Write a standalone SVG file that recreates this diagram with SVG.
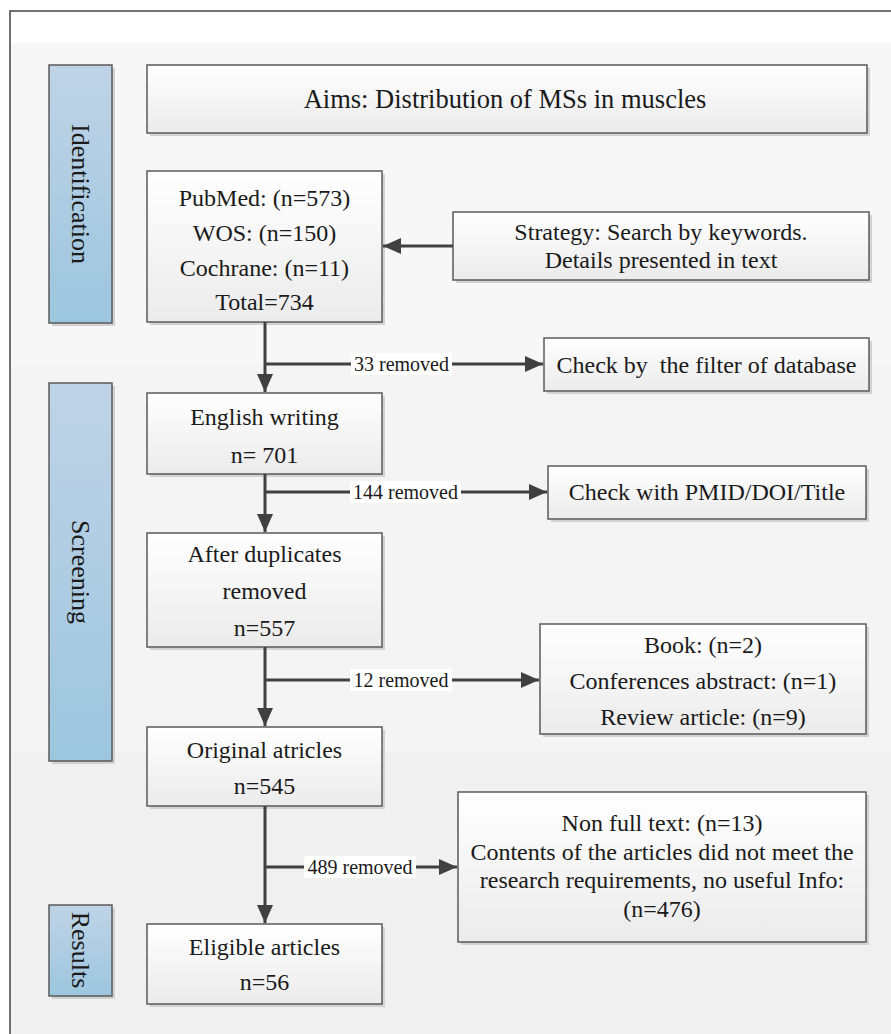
<svg xmlns="http://www.w3.org/2000/svg" width="891" height="1034" viewBox="0 0 891 1034">
<style>
.box{fill:url(#boxg);stroke:#5a5a5a;stroke-width:1.5}
.side{fill:url(#sideg);stroke:#5a5a5a;stroke-width:1.5}
.sh{fill:#d2d2d2}
.t{font-family:"Liberation Serif","Times New Roman",serif;font-size:24px;fill:#1a1a1a;text-anchor:middle}
.st{font-family:"Liberation Serif","Times New Roman",serif;font-size:26px;fill:#1a1a1a;text-anchor:middle}
.lbl{font-family:"Liberation Serif","Times New Roman",serif;font-size:20px;fill:#1a1a1a;text-anchor:middle}
.lb{fill:#ffffff}
.c{stroke:#404040;stroke-width:3;fill:none}
</style>
<defs>
<linearGradient id="boxg" x1="0" y1="0" x2="0" y2="1">
<stop offset="0" stop-color="#ffffff"/>
<stop offset="1" stop-color="#ebebeb"/>
</linearGradient>
<linearGradient id="sideg" x1="0" y1="0" x2="0" y2="1">
<stop offset="0" stop-color="#c0d3e6"/>
<stop offset="1" stop-color="#9cc6df"/>
</linearGradient>
<marker id="ah" markerUnits="userSpaceOnUse" markerWidth="20" markerHeight="20" viewBox="0 0 20 20" refX="18" refY="10" orient="auto">
<path d="M0,2 L18,10 L0,18 Z" fill="#404040"/>
</marker>
</defs>
<rect x="0" y="0" width="891" height="1034" fill="#ffffff"/>
<rect x="10" y="43" width="881" height="321" fill="#f7f7f7"/>
<rect x="10" y="364" width="881" height="388" fill="#f4f4f4"/>
<rect x="10" y="752" width="881" height="282" fill="#f0f0f0"/>
<path d="M10,1034 V11 H891" stroke="#444" stroke-width="1.5" fill="none"/>

<g id="side-identification">
<rect class="sh" x="52" y="68" width="63" height="258"/>
<rect class="side" x="49" y="65" width="63" height="258"/>
<text class="st" transform="translate(80.5,194) rotate(90)" dy="9">Identification</text>
</g>
<g id="side-screening">
<rect class="sh" x="52" y="386" width="63" height="378"/>
<rect class="side" x="49" y="383" width="63" height="378"/>
<text class="st" transform="translate(80.5,572) rotate(90)" dy="9">Screening</text>
</g>
<g id="side-results">
<rect class="sh" x="52" y="908" width="63" height="91"/>
<rect class="side" x="49" y="905" width="63" height="91"/>
<text class="st" transform="translate(80.5,950) rotate(90)" dy="9">Results</text>
</g>

<g id="aims">
<rect class="sh" x="150" y="68" width="720" height="68"/>
<rect class="box" x="147" y="65" width="720" height="68"/>
<text class="t" x="505" y="108" style="font-size:26.5px">Aims: Distribution of MSs in muscles</text>
</g>
<g id="sources">
<rect class="sh" x="150" y="174" width="235" height="151"/>
<rect class="box" x="147" y="171" width="235" height="151"/>
<text class="t" x="264.5" y="206">PubMed: (n=573)</text>
<text class="t" x="264.5" y="241">WOS: (n=150)</text>
<text class="t" x="264.5" y="276">Cochrane: (n=11)</text>
<text class="t" x="264.5" y="310">Total=734</text>
</g>
<g id="strategy">
<rect class="sh" x="456" y="215" width="416" height="68"/>
<rect class="box" x="453" y="212" width="416" height="68"/>
<text class="t" x="661" y="240">Strategy: Search by keywords.</text>
<text class="t" x="661" y="268">Details presented in text</text>
</g>
<g id="english">
<rect class="sh" x="150" y="396" width="235" height="81"/>
<rect class="box" x="147" y="393" width="235" height="81"/>
<text class="t" x="264.5" y="425">English writing</text>
<text class="t" x="264.5" y="463">n= 701</text>
</g>
<g id="filter">
<rect class="sh" x="547" y="341" width="325" height="53"/>
<rect class="box" x="544" y="338" width="325" height="53"/>
<text class="t" x="706.5" y="373" xml:space="preserve">Check by  the filter of database</text>
</g>
<g id="duplicates">
<rect class="sh" x="150" y="536" width="235" height="114"/>
<rect class="box" x="147" y="533" width="235" height="114"/>
<text class="t" x="264.5" y="562">After duplicates</text>
<text class="t" x="264.5" y="599">removed</text>
<text class="t" x="264.5" y="636">n=557</text>
</g>
<g id="pmid">
<rect class="sh" x="551" y="469" width="318" height="53"/>
<rect class="box" x="548" y="466" width="318" height="53"/>
<text class="t" x="707" y="500">Check with PMID/DOI/Title</text>
</g>
<g id="excluded1">
<rect class="sh" x="543" y="627" width="326" height="110"/>
<rect class="box" x="540" y="624" width="326" height="110"/>
<text class="t" x="703" y="653">Book: (n=2)</text>
<text class="t" x="703" y="689">Conferences abstract: (n=1)</text>
<text class="t" x="703" y="725">Review article: (n=9)</text>
</g>
<g id="original">
<rect class="sh" x="150" y="730" width="235" height="79"/>
<rect class="box" x="147" y="727" width="235" height="79"/>
<text class="t" x="264.5" y="758">Original atricles</text>
<text class="t" x="264.5" y="794">n=545</text>
</g>
<g id="excluded2">
<rect class="sh" x="461" y="795" width="408" height="150"/>
<rect class="box" x="458" y="792" width="408" height="150"/>
<text class="t" x="662" y="831">Non full text: (n=13)</text>
<text class="t" x="662" y="860">Contents of the articles did not meet the</text>
<text class="t" x="662" y="888">research requirements, no useful Info:</text>
<text class="t" x="662" y="917">(n=476)</text>
</g>
<g id="eligible">
<rect class="sh" x="150" y="927" width="235" height="80"/>
<rect class="box" x="147" y="924" width="235" height="80"/>
<text class="t" x="264.5" y="955">Eligible articles</text>
<text class="t" x="264.5" y="990">n=56</text>
</g>

<g id="connectors">
<path class="c" d="M453,246 H383" marker-end="url(#ah)"/>
<path class="c" d="M265,322 V392" marker-end="url(#ah)"/>
<path class="c" d="M265,364 H543" marker-end="url(#ah)"/>
<path class="c" d="M265,474 V532" marker-end="url(#ah)"/>
<path class="c" d="M265,492 H547" marker-end="url(#ah)"/>
<path class="c" d="M265,647 V726" marker-end="url(#ah)"/>
<path class="c" d="M265,680 H539" marker-end="url(#ah)"/>
<path class="c" d="M265,806 V923" marker-end="url(#ah)"/>
<path class="c" d="M265,867 H457" marker-end="url(#ah)"/>
<rect class="lb" x="351" y="353" width="101" height="22"/>
<text class="lbl" x="401.5" y="371">33 removed</text>
<rect class="lb" x="350" y="481" width="111" height="22"/>
<text class="lbl" x="405.5" y="499">144 removed</text>
<rect class="lb" x="350" y="669" width="102" height="22"/>
<text class="lbl" x="401" y="687">12 removed</text>
<rect class="lb" x="304" y="856" width="112" height="22"/>
<text class="lbl" x="360" y="874">489 removed</text>
</g>
</svg>
